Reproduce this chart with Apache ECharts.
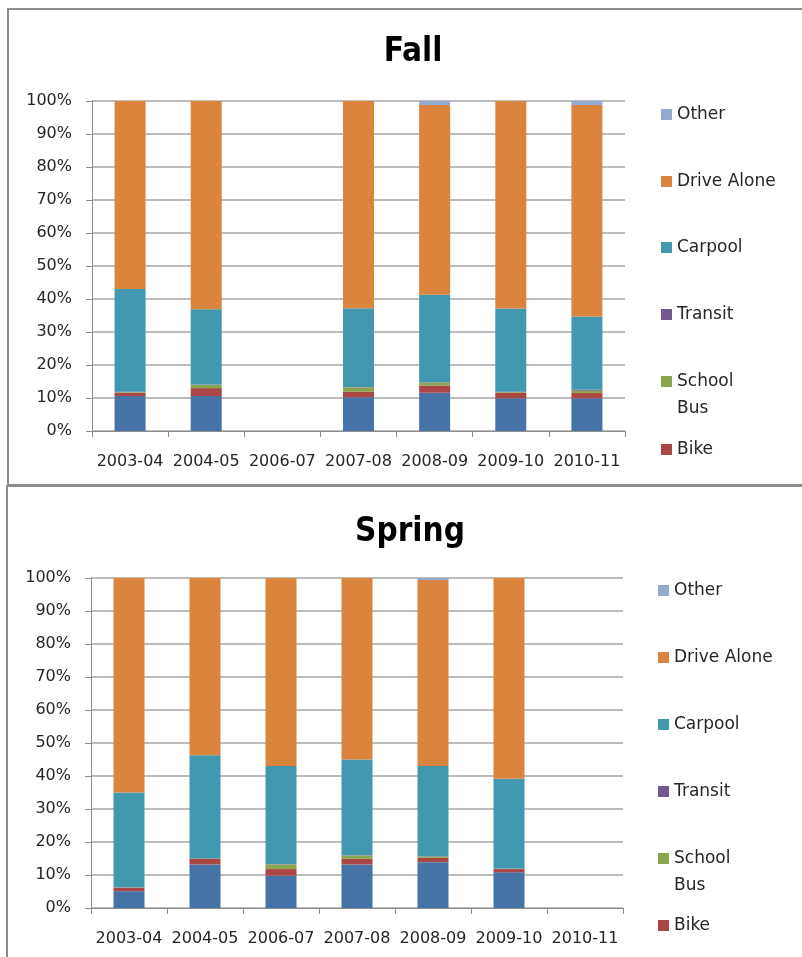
<!DOCTYPE html>
<html>
<head>
<meta charset="utf-8">
<title>Fall / Spring</title>
<script src="https://cdn.jsdelivr.net/npm/echarts@6/dist/echarts.min.js"></script>
<style>
    html, body {
        margin: 0;
        padding: 0;
        background: #fff;
    }
    #main {
        width: 802px;
        height: 957px;
        overflow: hidden;
    }
</style>
</head>
<body>
<div id="main"></div>
<script>
// categories (school years)
var years = ['2003-04', '2004-05', '2006-07', '2007-08', '2008-09', '2009-10', '2010-11']
var yTicks = [0, 10, 20, 30, 40, 50, 60, 70, 80, 90, 100]

// stack order, bottom to top
var modes = ['Walk', 'Bike', 'School Bus', 'Transit', 'Carpool', 'Drive Alone', 'Other']
var colors = ['#4572A7', '#AA4643', '#89A54E', '#71588F', '#4198AF', '#DB843D', '#93A9CF']

// Fall (percent of trips)
var fallWalk = [10.6, 10.6, null, 10.2, 11.6, 9.9, 9.9]
var fallBike = [1.0, 2.4, null, 1.7, 2.2, 1.7, 1.6]
var fallSchoolBus = [0.2, 1.0, null, 1.3, 0.9, 0.2, 0.7]
var fallTransit = [0.1, 0.1, null, 0.1, 0.1, 0.1, 0.3]
var fallCarpool = [31.1, 22.8, null, 23.9, 26.5, 25.2, 22.2]
var fallDriveAlone = [57.0, 63.1, null, 62.8, 57.5, 62.9, 64.1]
var fallOther = [0, 0, null, 0, 1.2, 0, 1.2]

// Spring (percent of trips)
var springWalk = [5.1, 13.2, 9.8, 13.2, 13.9, 10.8, null]
var springBike = [1.0, 1.7, 2.0, 1.7, 1.3, 1.0, null]
var springSchoolBus = [0.1, 0.1, 1.4, 1.0, 0.4, 0.1, null]
var springTransit = [0.1, 0.1, 0.1, 0.1, 0.1, 0.1, null]
var springCarpool = [28.7, 31.2, 29.7, 29.0, 27.3, 27.2, null]
var springDriveAlone = [65.0, 53.7, 57.0, 55.0, 56.4, 60.8, null]
var springOther = [0, 0, 0, 0, 0.6, 0, null]

var fallData = [fallWalk, fallBike, fallSchoolBus, fallTransit, fallCarpool, fallDriveAlone, fallOther]
var springData = [springWalk, springBike, springSchoolBus, springTransit, springCarpool, springDriveAlone, springOther]

var textColor = '#262626'
var axisFont = 'DejaVu Sans'
var titleFont = "'Liberation Sans Narrow', 'DejaVu Sans Condensed', sans-serif"

function buildSeries(data, idx, stack) {
    return modes.map(function (name, i) {
        return {
            name: name,
            type: 'bar',
            stack: stack,
            xAxisIndex: idx,
            yAxisIndex: idx,
            barWidth: 31,
            itemStyle: { color: colors[i] },
            data: data[i].map(function (v) { return v === null ? '-' : v })
        }
    })
}

function xAxisFor(idx) {
    return {
        type: 'category',
        gridIndex: idx,
        data: years,
        axisLine: { lineStyle: { color: '#8c8c8c', width: 1 } },
        axisTick: { show: true, length: 6, lineStyle: { color: '#8c8c8c' } },
        axisLabel: { color: textColor, fontFamily: axisFont, fontSize: 16, margin: 23, interval: 0 }
    }
}

function yAxisFor(idx) {
    return {
        type: 'value',
        gridIndex: idx,
        min: yTicks[0],
        max: yTicks[yTicks.length - 1],
        interval: 10,
        axisLine: { show: true, lineStyle: { color: '#8c8c8c', width: 1 } },
        axisTick: { show: true, length: 6, lineStyle: { color: '#8c8c8c' } },
        splitLine: { lineStyle: { color: '#a6a6a6', width: 1.5 } },
        axisLabel: { color: textColor, fontFamily: axisFont, fontSize: 16, margin: 20, formatter: '{value}%' }
    }
}

// one small legend per entry, Excel spreads them out evenly
var legendNames = ['Other', 'Drive Alone', 'Carpool', 'Transit', 'School Bus', 'Bike']
var fallLegendY = [115, 182, 248, 315, 382, 450]
var springLegendY = [591, 658, 725, 792, 859, 926]

function buildLegends(ys, left) {
    return legendNames.map(function (name, i) {
        var isBus = name === 'School Bus'
        return {
            data: [name],
            orient: 'vertical',
            left: left,
            // empty first line keeps the marker level with "School"
            top: ys[i] - (isBus ? 41 : 14),
            padding: 0,
            itemWidth: 11,
            itemHeight: 11,
            icon: 'rect',
            selectedMode: false,
            formatter: function (n) { return n === 'School Bus' ? ' \nSchool\nBus' : n },
            textStyle: {
                color: textColor,
                fontFamily: axisFont,
                fontSize: 17,
                lineHeight: 27
            }
        }
    })
}

var chart = echarts.init(document.getElementById('main'))
chart.setOption({
    animation: false,
    title: [{
        text: 'Fall',
        left: 408,
        top: 31,
        textAlign: 'center',
        textStyle: { fontFamily: titleFont, fontWeight: 'bold', fontSize: 33, color: '#000' }
    }, {
        text: 'Spring',
        left: 405,
        top: 511,
        textAlign: 'center',
        textStyle: { fontFamily: titleFont, fontWeight: 'bold', fontSize: 33, color: '#000' }
    }],
    legend: buildLegends(fallLegendY, 661).concat(buildLegends(springLegendY, 658)),
    grid: [
        { left: 92, top: 101, width: 533, height: 330 },
        { left: 91, top: 578, width: 532, height: 330 }
    ],
    xAxis: [xAxisFor(0), xAxisFor(1)],
    yAxis: [yAxisFor(0), yAxisFor(1)],
    series: buildSeries(fallData, 0, 'fall').concat(buildSeries(springData, 1, 'spring')),
    graphic: [
        { type: 'rect', shape: { x: 8, y: 9, width: 820, height: 476 }, style: { fill: 'none', stroke: '#8c8c8c', lineWidth: 2 }, silent: true },
        { type: 'rect', shape: { x: 7, y: 486, width: 820, height: 500 }, style: { fill: 'none', stroke: '#8c8c8c', lineWidth: 2 }, silent: true }
    ]
})
</script>
</body>
</html>
